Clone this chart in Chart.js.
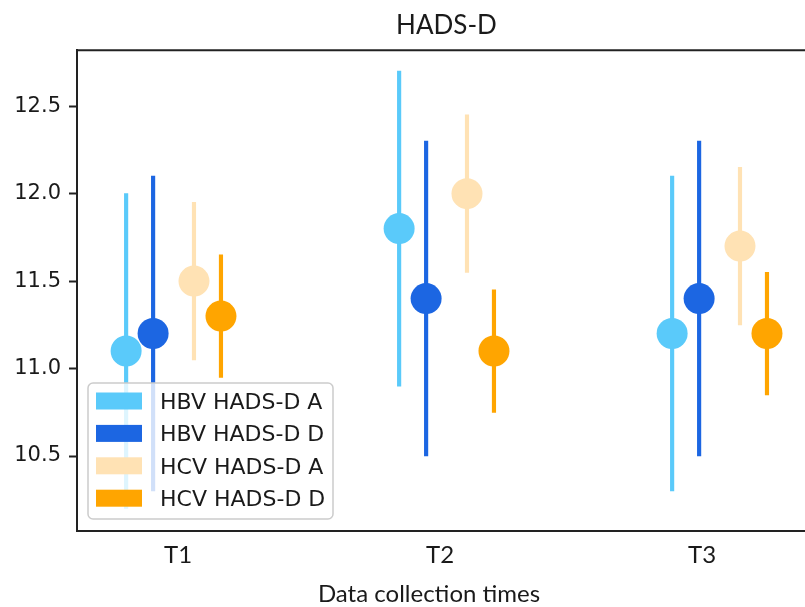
<!DOCTYPE html>
<html><head><meta charset="utf-8">
<script src="https://cdn.jsdelivr.net/npm/chart.js@4.4.0/dist/chart.umd.min.js"></script>
<style>
html,body{margin:0;padding:0;background:#fff;overflow:hidden;width:805px;height:607px}
#wrap{position:relative;width:893px;height:607px}
canvas{display:block}
</style></head><body>
<div id="wrap"><canvas id="c" width="893" height="607" style="width:893px;height:607px"></canvas></div>
<script>
// ---- data ----
const categories = ['T1', 'T2', 'T3'];
const seriesNames = ['HBV HADS-D A', 'HBV HADS-D D', 'HCV HADS-D A', 'HCV HADS-D D'];
const hbvA_mean = [11.1, 11.8, 11.2];
const hbvA_low  = [10.2, 10.9, 10.3];
const hbvA_high = [12.0, 12.7, 12.1];
const hbvD_mean = [11.2, 11.4, 11.4];
const hbvD_low  = [10.3, 10.5, 10.5];
const hbvD_high = [12.1, 12.3, 12.3];
const hcvA_mean = [11.5, 12.0, 11.7];
const hcvA_low  = [11.05, 11.55, 11.25];
const hcvA_high = [11.95, 12.45, 12.15];
const hcvD_mean = [11.3, 11.1, 11.2];
const hcvD_low  = [10.95, 10.75, 10.85];
const hcvD_high = [11.65, 11.45, 11.55];
const yTicks = [10.5, 11.0, 11.5, 12.0, 12.5];

// ---- styling / layout ----
const colors = ['#5ACAFA', '#1C66E2', '#FFE2B4', '#FFA500'];
const means = [hbvA_mean, hbvD_mean, hcvA_mean, hcvD_mean];
const lows = [hbvA_low, hbvD_low, hcvA_low, hcvD_low];
const highs = [hbvA_high, hbvD_high, hcvA_high, hcvD_high];
const groupStep = 1.042;
const seriesOffset = [-0.198, -0.095, 0.061, 0.164];
const xpos = (s, i) => i * groupStep + seriesOffset[s];

const datasets = [];
means.forEach((m, s) => {
  datasets.push({
    type: 'scatter', label: seriesNames[s], order: 1,
    data: m.map((v, i) => ({x: xpos(s, i), y: v})),
    pointRadius: 15.5, pointHoverRadius: 15.5,
    pointBackgroundColor: colors[s], pointBorderWidth: 0, borderWidth: 0,
    backgroundColor: colors[s]
  });
});
lows.forEach((l, s) => {
  datasets.push({
    type: 'bar', label: seriesNames[s] + ' err', order: 2,
    data: l.map((v, i) => ({x: xpos(s, i), y: [v, highs[s][i]]})),
    backgroundColor: colors[s], borderWidth: 0,
    grouped: false, maxBarThickness: 3.5, barPercentage: 1, categoryPercentage: 1
  });
});

const framePlugin = {
  id: 'frame',
  afterDatasetsDraw(chart) {
    const {ctx, chartArea: a} = chart;
    ctx.save();
    ctx.strokeStyle = '#222'; ctx.lineWidth = 2;
    ctx.beginPath(); ctx.moveTo(a.left - 1, a.top); ctx.lineTo(a.right, a.top); ctx.stroke();
    ctx.restore();
  }
};

const legendPlugin = {
  id: 'boxLegend',
  afterDraw(chart) {
    const {ctx, chartArea: a} = chart;
    const w = 245, h = 136;
    const x = a.left + 11, y = a.bottom - 12 - h;
    ctx.save();
    ctx.beginPath();
    ctx.roundRect(x, y, w, h, 5);
    ctx.fillStyle = 'rgba(255,255,255,0.8)';
    ctx.fill();
    ctx.strokeStyle = '#cccccc'; ctx.lineWidth = 1.5;
    ctx.stroke();
    ctx.font = '22px "DejaVu Sans"';
    ctx.textAlign = 'left'; ctx.textBaseline = 'alphabetic';
    seriesNames.forEach((n, s) => {
      const cy = y + 18 + s * 32.4;
      ctx.fillStyle = colors[s];
      ctx.fillRect(x + 8, cy - 8.5, 46, 17);
      ctx.fillStyle = '#1a1a1a';
      ctx.fillText(n, x + 72, cy + 8);
    });
    ctx.restore();
  }
};

const xTitlePlugin = {
  id: 'xTitle',
  afterDraw(chart) {
    const {ctx} = chart;
    ctx.save();
    ctx.font = '24px Lato';
    ctx.fillStyle = '#1a1a1a';
    ctx.textAlign = 'center'; ctx.textBaseline = 'alphabetic';
    ctx.fillText('Data collection times', 429, 601.5);
    ctx.restore();
  }
};

function build() {
  new Chart(document.getElementById('c'), {
    type: 'bar',
    data: {datasets},
    options: {
      responsive: false, animation: false, devicePixelRatio: 1,
      layout: {padding: 0, autoPadding: false},
      plugins: {
        legend: {display: false},
        tooltip: {enabled: false},
        title: {
          display: true, text: 'HADS-D', color: '#1a1a1a',
          font: {family: 'Lato', size: 26, weight: 'normal', lineHeight: 1.2},
          padding: {top: 10, bottom: 9}
        }
      },
      scales: {
        x: {
          type: 'linear', offset: false,
          min: -0.3855, max: 2.729,
          afterBuildTicks: sc => { sc.ticks = categories.map((c, i) => ({value: i})); },
          afterFit: sc => { sc.height = 76; sc.paddingLeft = 0; sc.paddingRight = 0; },
          grid: {display: false, drawTicks: false},
          border: {display: true, color: '#222', width: 2},
          ticks: {
            color: '#1a1a1a', font: {family: 'Lato', size: 24}, padding: 10,
            maxRotation: 0, autoSkip: false,
            callback: v => categories[v]
          }
        },
        y: {
          min: 10.0714, max: 12.82,
          afterBuildTicks: sc => { sc.ticks = yTicks.map(v => ({value: v})); },
          afterFit: sc => { sc.width = 77; sc.paddingTop = 0; sc.paddingBottom = 0; },
          grid: {display: true, drawOnChartArea: false, drawTicks: true, tickLength: 8, tickColor: '#222', tickWidth: 2},
          border: {display: true, color: '#222', width: 2},
          ticks: {
            color: '#1a1a1a', font: {family: 'DejaVu Sans', size: 21}, padding: 8,
            autoSkip: false,
            callback: v => v.toFixed(1)
          }
        }
      }
    },
    plugins: [framePlugin, legendPlugin, xTitlePlugin]
  });
}
Promise.all([
  document.fonts.load('24px Lato'),
  document.fonts.load('22px "DejaVu Sans"')
]).then(build, build);
</script>
</body></html>
